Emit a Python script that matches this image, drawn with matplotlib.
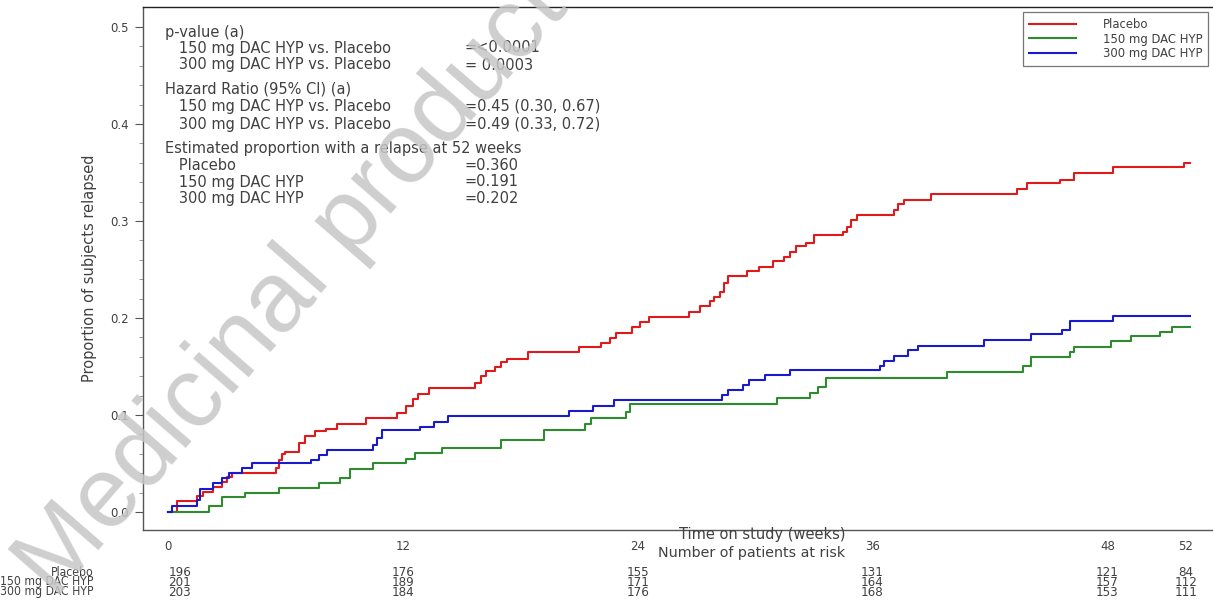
import matplotlib
matplotlib.use("Agg")
import matplotlib.pyplot as plt
from matplotlib.transforms import blended_transform_factory

plt.rcParams['font.family'] = ['DejaVu Sans']

# ---------------- data ----------------
group_names = ["Placebo", "150 mg DAC HYP", "300 mg DAC HYP"]
group_colors = ["#e01a1a", "#2e8b2e", "#1a1acd"]

placebo_t = [0, 0.45, 1.5, 1.8, 2.3, 2.75, 3.0, 3.27, 5.5, 5.65, 5.8, 6.0, 6.7, 7.0, 7.5, 8.05, 8.65,
             10.1, 11.7, 12.15, 12.5, 12.75, 13.35, 15.7, 16.0, 16.25, 16.7, 17.0, 17.3, 18.4,
             21.0, 22.1, 22.6, 22.9, 23.7, 24.1, 24.6, 26.6, 27.2, 27.7, 27.9, 28.2, 28.4, 28.6,
             29.6, 30.2, 30.9, 31.5, 31.8, 32.1, 32.6, 33.0, 34.5, 34.7, 34.9, 35.2,
             37.1, 37.3, 37.6, 39.0, 43.4, 43.9, 45.6, 46.3, 48.3, 51.9, 52.2]
placebo_p = [0, 0.011, 0.016, 0.021, 0.026, 0.031, 0.036, 0.040, 0.045, 0.054, 0.060, 0.062, 0.071, 0.078, 0.083, 0.086, 0.091,
             0.097, 0.102, 0.109, 0.116, 0.122, 0.128, 0.133, 0.140, 0.145, 0.149, 0.155, 0.158, 0.165,
             0.170, 0.174, 0.179, 0.185, 0.191, 0.196, 0.201, 0.206, 0.212, 0.217, 0.222, 0.227, 0.236, 0.243,
             0.248, 0.253, 0.259, 0.263, 0.268, 0.274, 0.277, 0.286, 0.289, 0.294, 0.301, 0.306,
             0.311, 0.318, 0.322, 0.328, 0.333, 0.339, 0.342, 0.349, 0.356, 0.360, 0.360]

dac150_t = [0, 2.07, 2.75, 3.95, 5.65, 7.7, 8.8, 9.3, 10.5, 12.15, 12.6, 14.0, 17.0, 19.2,
            21.3, 21.6, 23.4, 23.6, 31.1, 32.8, 33.2, 33.6, 39.8, 43.7, 44.1, 46.1, 46.3,
            48.2, 49.2, 50.7, 51.3, 52.2]
dac150_p = [0, 0.006, 0.015, 0.020, 0.025, 0.030, 0.035, 0.044, 0.050, 0.055, 0.061, 0.066, 0.074, 0.085,
            0.091, 0.097, 0.103, 0.111, 0.117, 0.123, 0.129, 0.138, 0.144, 0.150, 0.160, 0.165, 0.170,
            0.176, 0.181, 0.186, 0.191, 0.191]

dac300_t = [0, 0.2, 1.5, 1.65, 2.3, 2.75, 3.1, 3.8, 4.3, 7.3, 7.7, 8.1, 10.5, 10.7, 10.95,
            12.9, 13.6, 14.3, 20.5, 21.7, 22.8, 28.3, 28.6, 29.4, 29.7, 30.5, 31.8,
            36.4, 36.6, 37.1, 37.8, 38.3, 41.7, 44.1, 45.7, 46.1, 48.3, 52.2]
dac300_p = [0, 0.006, 0.012, 0.024, 0.030, 0.035, 0.040, 0.045, 0.050, 0.054, 0.059, 0.064, 0.069, 0.076, 0.084,
            0.088, 0.093, 0.099, 0.104, 0.109, 0.115, 0.121, 0.126, 0.131, 0.136, 0.141, 0.146,
            0.150, 0.156, 0.161, 0.167, 0.171, 0.177, 0.183, 0.188, 0.197, 0.202, 0.202]

x_ticks = [0, 12, 24, 36, 48, 52]
y_ticks = [0.0, 0.1, 0.2, 0.3, 0.4, 0.5]
at_risk_placebo = [196, 176, 155, 131, 121, 84]
at_risk_150 = [201, 189, 171, 164, 157, 112]
at_risk_300 = [203, 184, 176, 168, 153, 111]

stat_labels = ["p-value (a)",
               "   150 mg DAC HYP vs. Placebo",
               "   300 mg DAC HYP vs. Placebo",
               "Hazard Ratio (95% CI) (a)",
               "   150 mg DAC HYP vs. Placebo",
               "   300 mg DAC HYP vs. Placebo",
               "Estimated proportion with a relapse at 52 weeks",
               "   Placebo",
               "   150 mg DAC HYP",
               "   300 mg DAC HYP"]
stat_values = ["", "=<0.0001", "= 0.0003", "", "=0.45 (0.30, 0.67)", "=0.49 (0.33, 0.72)",
               "", "=0.360", "=0.191", "=0.202"]

# ---------------- figure ----------------
W, H = 1213, 607
fig = plt.figure(figsize=(W / 100, H / 100), dpi=100)
ax = fig.add_axes([143 / W, 1 - 530 / H, (1216 - 143) / W, (530 - 7) / H])

txt_col = "#404040"
series = [(placebo_t, placebo_p), (dac150_t, dac150_p), (dac300_t, dac300_p)]
for (t, p), name, col in zip(series, group_names, group_colors):
    ax.step(t, p, where="post", color=col, lw=1.5, label=name)

ax.set_xlim(-1.277, 53.55)
ax.set_ylim(-0.0186, 0.5206)

ax.set_yticks(y_ticks)
ax.set_yticklabels([f"{v:.1f}" for v in y_ticks])
ax.set_yticks([v / 100 for v in range(0, 52, 2)], minor=True)
ax.tick_params(axis="y", which="major", direction="out", length=6, width=0.8,
               colors="#555555", labelcolor=txt_col, labelsize=8.5, pad=4)
ax.tick_params(axis="y", which="minor", direction="out", length=3, width=0.6, colors="#888888")
ax.set_xticks(x_ticks)
ax.set_xticklabels([str(v) for v in x_ticks])
ax.tick_params(axis="x", length=0, labelsize=8.5, labelcolor=txt_col, pad=7)

for s in ["left", "bottom", "top"]:
    ax.spines[s].set_color("#555555")
    ax.spines[s].set_linewidth(1.0)
ax.spines["top"].set_color("#222222")
ax.spines["right"].set_visible(False)

ax.set_ylabel("Proportion of subjects relapsed", fontsize=10.5, color=txt_col, labelpad=10)

# statistics box
label_y = [32, 48, 65, 89, 106, 124, 148, 165, 182, 199]
for lab, val, py in zip(stat_labels, stat_values, label_y):
    fig.text(165 / W, 1 - py / H, lab, fontsize=10.5, color=txt_col, va="center", ha="left")
    if val:
        fig.text(465 / W, 1 - py / H, val, fontsize=10.5, color=txt_col, va="center", ha="left")

# legend
leg = ax.legend(loc="upper right", bbox_to_anchor=(1208 / W, 1 - 12 / H),
                bbox_transform=fig.transFigure, fontsize=8.4, frameon=True,
                fancybox=False, edgecolor="#555555", handlelength=4.0,
                borderpad=0.5, labelspacing=0.15, handletextpad=2.3,
                alignment="right", borderaxespad=0)
leg.get_frame().set_linewidth(0.9)
for t in leg.get_texts():
    t.set_color(txt_col)
    t.set_ha("right")

# axis label texts
fig.text(762 / W, 1 - 535 / H, "Time on study (weeks)", fontsize=10.5, color=txt_col,
         ha="center", va="center")
fig.text(752 / W, 1 - 553 / H, "Number of patients at risk", fontsize=10.3, color=txt_col,
         ha="center", va="center")

# at-risk table
trans = blended_transform_factory(ax.transData, fig.transFigure)
rows = [at_risk_placebo, at_risk_150, at_risk_300]
row_y = [572, 582, 592]
first_col_shift = 0.6  # weeks; first column sits a bit right of the 0 tick
for name, vals, py in zip(group_names, rows, row_y):
    fig.text(94 / W, 1 - py / H, name, fontsize=8.7, color=txt_col, ha="right", va="center",
             fontstretch="condensed")
    for i, (xv, n) in enumerate(zip(x_ticks, vals)):
        xpos = xv + (first_col_shift if i == 0 else 0)
        ax.text(xpos, 1 - py / H, str(n), transform=trans, fontsize=9.5, color=txt_col,
                ha="center", va="center", clip_on=False, fontstretch="condensed")

# watermark
fig.text(55 / W, 1 - 600 / H, "Medicinal product no longer authorised", fontsize=72,
         color="#c6c6c6", rotation=49, ha="left", va="baseline", rotation_mode="anchor",
         family="Liberation Sans", zorder=10, alpha=0.85,
         transform=fig.transFigure)

fig.savefig("out.png", dpi=100)
